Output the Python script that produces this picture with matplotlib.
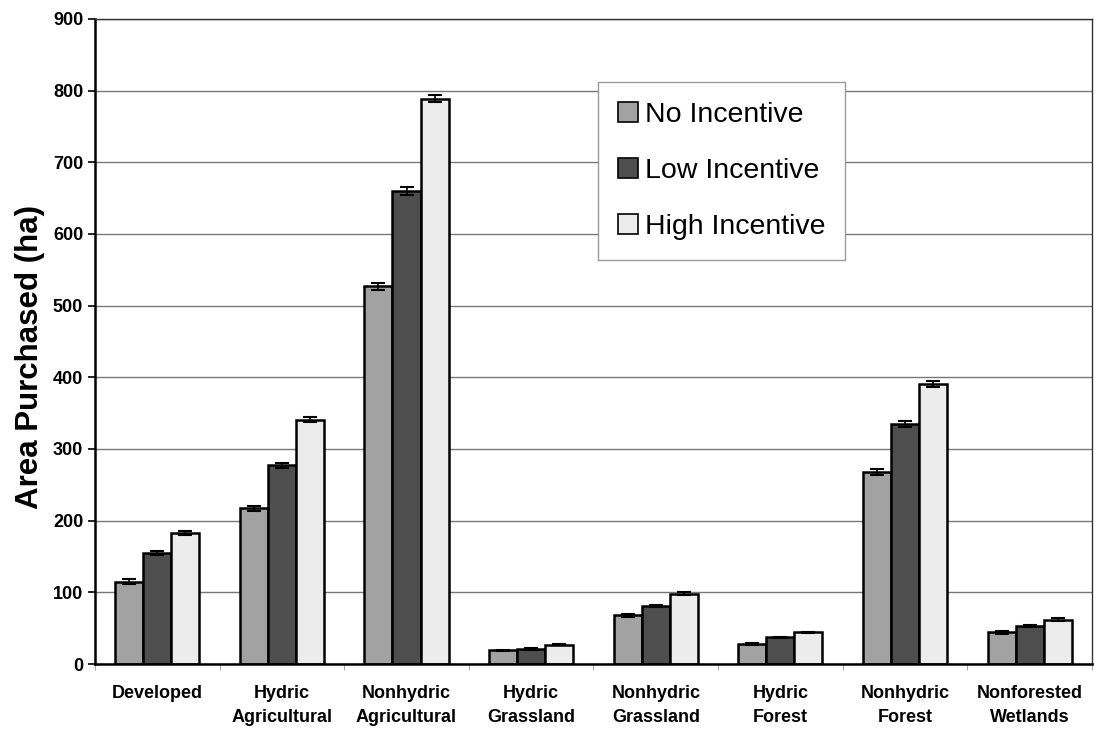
import matplotlib.pyplot as plt
import numpy as np

plt.rcParams["font.family"] = ["Liberation Sans", "DejaVu Sans"]

categories = ["Developed", "Hydric\nAgricultural", "Nonhydric\nAgricultural", "Hydric\nGrassland",
              "Nonhydric\nGrassland", "Hydric\nForest", "Nonhydric\nForest", "Nonforested\nWetlands"]
series_names = ["No Incentive", "Low Incentive", "High Incentive"]
no_incentive = [115, 217, 527, 19, 68, 28, 268, 44]
low_incentive = [155, 277, 660, 21, 81, 37, 335, 53]
high_incentive = [183, 341, 789, 27, 98, 44, 391, 62]
no_err = [3, 4, 5, 1, 2, 1, 4, 1.5]
low_err = [3, 4, 5, 1, 2, 1, 4, 1.5]
high_err = [3, 4, 5, 1, 2, 1, 4, 1.5]

colors = ["#a2a2a2", "#4e4e4e", "#ececec"]

fig = plt.figure(figsize=(10.99, 7.3), dpi=100)
ax = fig.add_axes([0.0864, 0.0904, 0.9072, 0.8836])

x = np.arange(len(categories))
w = 0.225
for i, (vals, errs) in enumerate(zip([no_incentive, low_incentive, high_incentive],
                                     [no_err, low_err, high_err])):
    ax.bar(x + (i - 1) * w, vals, w, color=colors[i], edgecolor="black", linewidth=1.8,
           label=series_names[i], zorder=2)
    ax.errorbar(x + (i - 1) * w, vals, yerr=errs, fmt="none", ecolor="black",
                elinewidth=1.2, capsize=5, capthick=1.5, zorder=3)

ax.set_xlim(-0.5, len(categories) - 0.5)
ax.set_ylim(0, 900)
ax.set_yticks(np.arange(0, 901, 100))
ax.yaxis.grid(True, color="#777777", linewidth=1.0, zorder=0)
ax.set_axisbelow(True)
ax.set_xticks(x)
ax.set_xticklabels(categories, fontsize=13, fontweight="bold", linespacing=1.55)
ax.tick_params(axis="x", length=0, pad=15)
ax.set_xticks(np.arange(-0.5, len(categories), 1), minor=True)
ax.tick_params(axis="x", which="minor", length=4, color="#999999")
ax.tick_params(axis="y", labelsize=13, length=5, width=1.2)
for lab in ax.get_yticklabels():
    lab.set_fontweight("bold")
ax.set_ylabel("Area Purchased (ha)", fontsize=22.5, fontweight="bold")
ax.yaxis.set_label_coords(-0.05, 0.476)

for s in ["left", "bottom"]:
    ax.spines[s].set_linewidth(1.8)
for s in ["top", "right"]:
    ax.spines[s].set_linewidth(1.0)
    ax.spines[s].set_color("#333333")

leg = ax.legend(loc="upper left", bbox_to_anchor=(0.5045, 0.902), fontsize=20.5, frameon=True,
                fancybox=False, edgecolor="#999999", framealpha=1, handlelength=0.7,
                handleheight=0.7, handletextpad=0.25, labelspacing=1.05, borderpad=0.7,
                borderaxespad=0)
leg.get_frame().set_linewidth(1.0)
for h in leg.legend_handles:
    h.set_linewidth(1.2)

fig.savefig("out.png", dpi=100)
